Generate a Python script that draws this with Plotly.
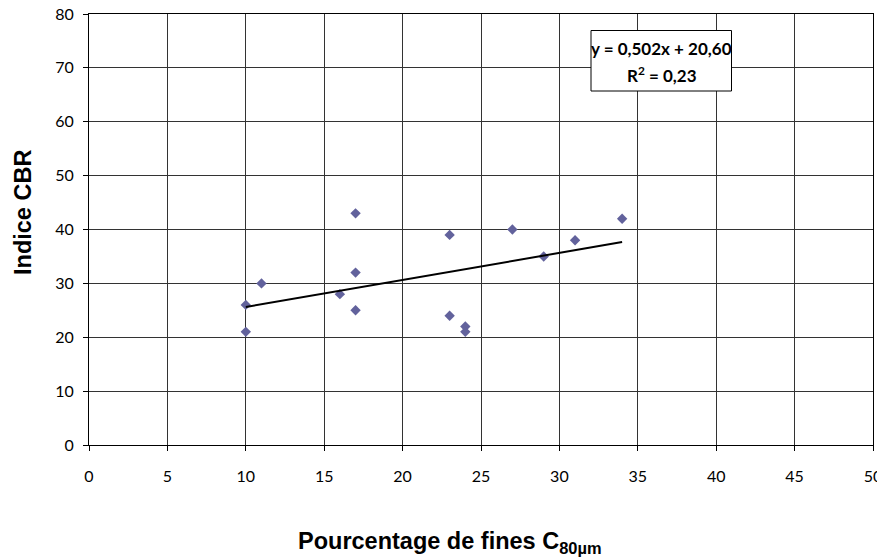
import plotly.graph_objects as go

# fines content (%) vs CBR index
fines = [10, 10, 11, 16, 17, 17, 17, 23, 23, 24, 24, 27, 29, 31, 34]
cbr = [26, 21, 30, 28, 43, 32, 25, 39, 24, 22, 21, 40, 35, 38, 42]

# linear trend as given on the chart
slope, intercept = 0.502, 20.60
eq_text = "y = 0,502x + 20,60"
r2_text = "R<sup>2</sup> = 0,23"
trend_x = [min(fines), max(fines)]
trend_y = [slope * x + intercept for x in trend_x]

x_ticks = [0, 5, 10, 15, 20, 25, 30, 35, 40, 45, 50]
y_ticks = [0, 10, 20, 30, 40, 50, 60, 70, 80]

W, H = 885, 557
OFF = 8  # page body margin
PL, PR, PT, PB = 89, 873, 14, 445  # plot area in page pixels
L, R, T, B = PL - OFF, W + OFF - PR, PT - OFF, H + OFF - PB
pw, ph = PR - PL, PB - PT


def px(x):  # page pixel -> paper x
    return (x - PL) / pw


def py(y):  # page pixel -> paper y
    return (PB - y) / ph


fig = go.Figure()
fig.add_trace(go.Scatter(
    x=fines, y=cbr, mode="markers",
    marker=dict(symbol="diamond", size=8, color="#62629c"),
    showlegend=False,
))
fig.add_trace(go.Scatter(
    x=trend_x, y=trend_y, mode="lines",
    line=dict(color="black", width=2),
    showlegend=False,
))

# equation box
fig.add_shape(
    type="rect", xref="paper", yref="paper",
    x0=px(591), x1=px(731.5), y0=py(91), y1=py(30.5),
    fillcolor="white", line=dict(color="black", width=1), layer="above",
)
eq_font = dict(family="Lato, Liberation Sans, sans-serif", size=17, color="black")
fig.add_annotation(
    x=px(661.5), y=py(48), xref="paper", yref="paper", xanchor="center", yanchor="middle",
    text="<b>%s</b>" % eq_text, showarrow=False, font=eq_font,
)
fig.add_annotation(
    x=px(661.5), y=py(74), xref="paper", yref="paper", xanchor="center", yanchor="middle",
    text="<b>%s</b>" % r2_text, showarrow=False, font=eq_font,
)

# axis titles
title_font = dict(family="Liberation Sans, Arial", size=23.5, color="black")
fig.add_annotation(
    x=px(450), y=py(542), xref="paper", yref="paper",
    xanchor="center", yanchor="middle",
    text="<b>Pourcentage de fines C<sub>80µm</sub></b>", showarrow=False,
    font=title_font,
)
fig.add_annotation(
    x=px(23), y=py(213), xref="paper", yref="paper",
    xanchor="center", yanchor="middle",
    text="<b>Indice CBR</b>", showarrow=False, textangle=-90,
    font=title_font,
)

fig.update_layout(
    width=W, height=H,
    margin=dict(l=L, r=R, t=T, b=B, autoexpand=False),
    plot_bgcolor="white", paper_bgcolor="white",
    font=dict(family="Lato, Liberation Sans, sans-serif", size=16, color="black"),
)
axis_style = dict(
    showgrid=True, gridcolor="#333333", gridwidth=1,
    showline=True, linecolor="black", linewidth=1, mirror=True,
    ticks="outside", ticklen=5, tickcolor="black",
    zeroline=False, automargin=False, ticklabeloverflow="allow",
)
fig.update_xaxes(range=[0, 50], tickvals=x_ticks, ticklabelstandoff=12, **axis_style)
fig.update_yaxes(range=[0, 80], tickvals=y_ticks, ticklabelstandoff=6, **axis_style)

fig.write_html("out.html")
